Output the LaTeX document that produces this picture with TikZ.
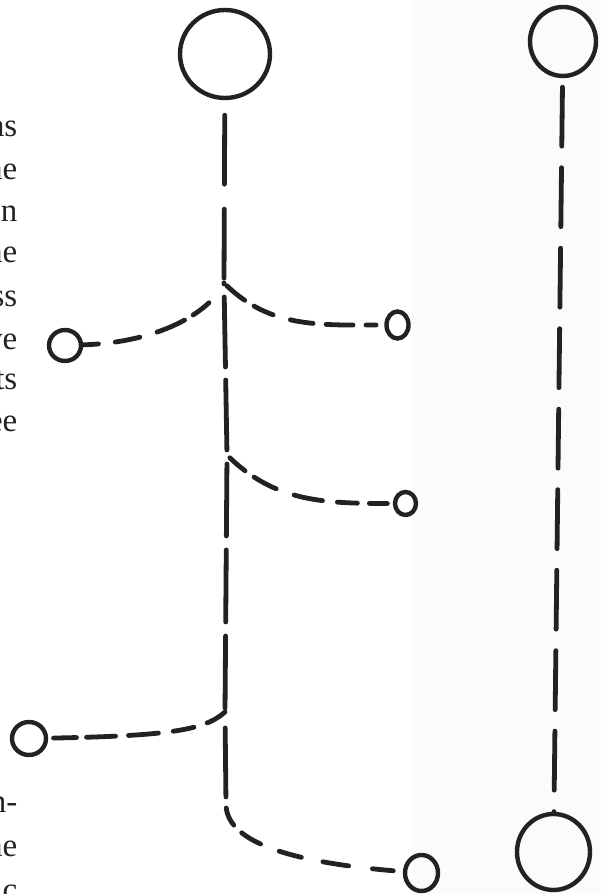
\documentclass[tikz,border=0pt]{standalone}
\usepackage{fontspec}
\setmainfont{Liberation Serif}
\usetikzlibrary{shapes.geometric, positioning}
\definecolor{SketchInk}{RGB}{34,34,34}
\definecolor{PageInk}{RGB}{35,35,35}
\definecolor{ScanTone}{RGB}{251,251,251}

\begin{document}
\begin{tikzpicture}[x=1pt,y=1pt,
  ring/.style={ellipse, draw=SketchInk, line width=4.4pt, inner sep=0pt},
  stroke/.style={draw=SketchInk, line width=4.8pt, line cap=round},
  frag/.style={anchor=base east, inner sep=0pt, text=PageInk, font=\fontsize{33}{40}\selectfont}]
  \path[use as bounding box] (0,0) rectangle (601,894);
  \fill[ScanTone] (412,0) rectangle (601,894);

  % cut-off words of the page text
  \foreach \y/\frag in {757/as,714/he,672/in,631/he,587/ss,544/ve,504/ts,462/ee,81/n-,37/he,-6/ic}{
    \node[frag] (line\y) at (17.5,\y) {\frag};
  }

  \node[ring, minimum width=90pt, minimum height=88pt] (root) at (225,840) {};
  \node[ring, minimum width=22pt, minimum height=27pt] (leafA) at (397.5,569) {};
  \node[ring, minimum width=32pt, minimum height=31pt] (leafB) at (65,548.5) {};
  \node[ring, minimum width=21pt, minimum height=23pt] (leafC) at (405.5,390.5) {};
  \node[ring, minimum width=34pt, minimum height=33pt] (leafD) at (29,155.5) {};
  \node[ring, minimum width=33pt, minimum height=36pt] (leafE) at (421.5,21) {};
  \node[ring, minimum width=66pt, minimum height=69pt] (topR) at (563,852.5) {};
  \node[ring, minimum width=73pt, minimum height=76pt] (botR) at (553.5,42) {};

  \coordinate (j1) at (224,611);
  \coordinate (j2) at (227,439);
  \coordinate (j3) at (225,182);
  \coordinate (bend) at (226,90);

  \draw[stroke, dash pattern=on 69pt off 25pt, dash phase=79pt] (root) -- (j1);
  \draw[stroke, dash pattern=on 70pt off 13pt, dash phase=69pt] (j1) -- (j2);
  \draw[stroke, dash pattern=on 72pt off 14pt, dash phase=77pt] (j2) -- (j3);
  \draw[stroke, dash pattern=on 69pt off 11pt on 19pt off 11pt on 22pt off 20pt on 23pt off 22pt on 26pt off 24pt on 21pt off 26pt, dash phase=278pt]
    (j3) -- (bend) .. controls (226,55) and (280,32) .. (leafE);

  \draw[stroke, dash pattern=on 23pt off 11pt on 21pt off 18pt on 23pt off 13pt on 27pt off 13pt on 10pt off 30pt, dash phase=185pt]
    (j1) to[out=-45, in=180] (leafA);
  \draw[stroke, dash pattern=on 20pt off 10pt on 30pt off 18pt on 25pt off 17pt on 22pt off 30pt, dash phase=147pt]
    (j1) .. controls (212,585) and (165,552) .. (leafB);
  \draw[stroke, dash pattern=on 20pt off 11pt on 25pt off 19pt on 29pt off 15pt on 20pt off 12pt on 18pt off 20pt, dash phase=185pt]
    (j2) to[out=-45, in=180] (leafC);
  \draw[stroke, dash pattern=on 21pt off 14pt on 21pt off 15pt on 30pt off 13pt on 29pt off 10pt on 23pt off 30pt]
    (j3) .. controls (205,164) and (170,158) .. (leafD);

  \draw[stroke, dash pattern=on 59pt off 21.5pt, dash phase=71.5pt] (topR) -- (botR);
\end{tikzpicture}
\end{document}
